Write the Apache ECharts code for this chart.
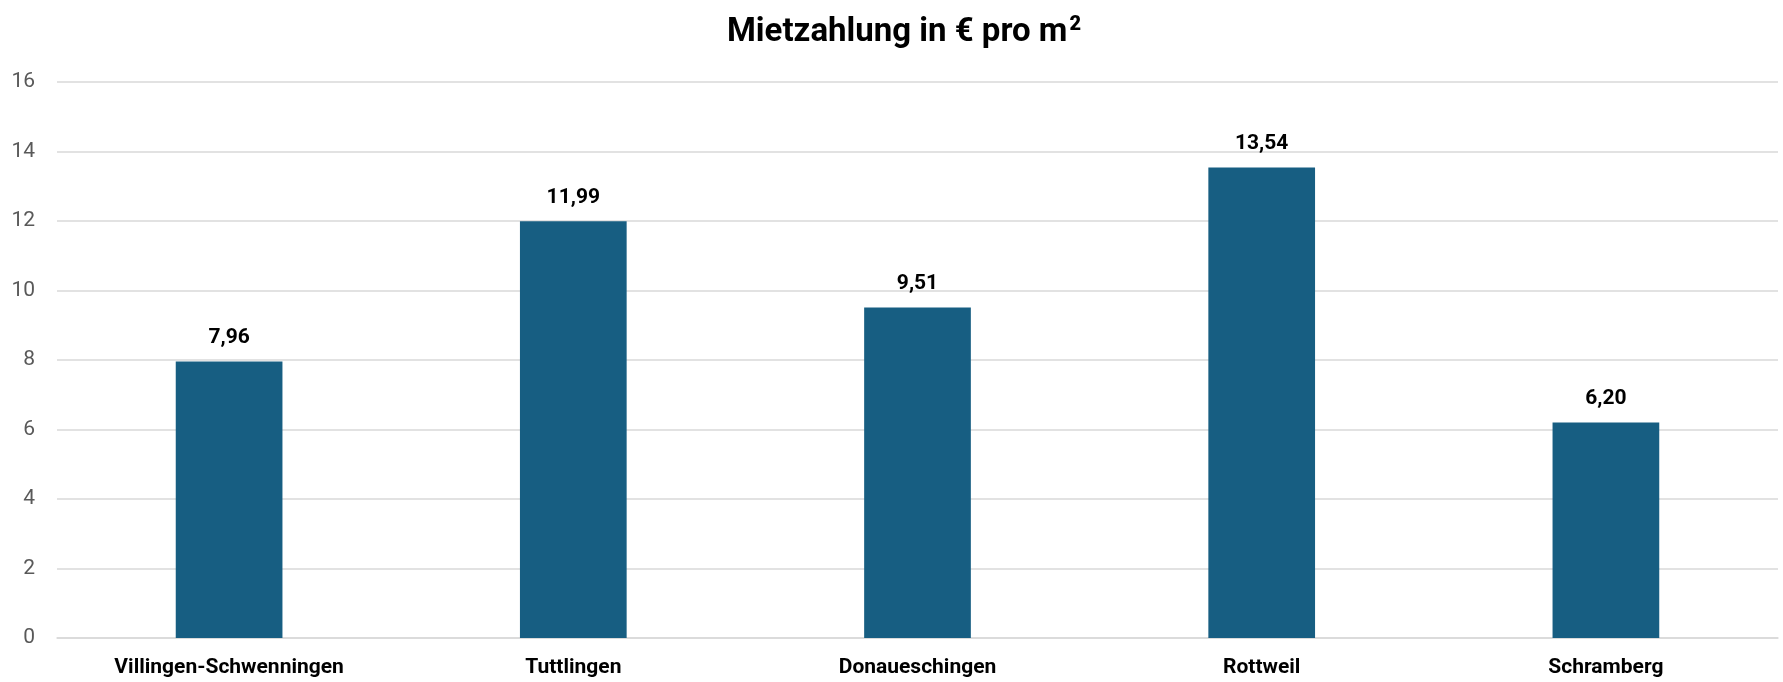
<!DOCTYPE html>
<html><head><meta charset="utf-8">
<script src="https://cdn.jsdelivr.net/npm/echarts@6/dist/echarts.min.js"></script>
<style>html,body{margin:0;padding:0;background:#fff}#c{width:1783px;height:682px}</style>
</head><body><div id="c"></div>
<script>
const categories = ["Villingen-Schwenningen","Tuttlingen","Donaueschingen","Rottweil","Schramberg"];
const values = [7.96, 11.99, 9.51, 13.54, 6.20];
const chartTitle = "Mietzahlung in € pro m";
const titleSup = "2";

const chart = echarts.init(document.getElementById('c'), null, {renderer:'canvas'});
chart.setOption({
  animation:false,
  backgroundColor:'#fff',
  title:{text:chartTitle + '{sup|' + titleSup + '}',left:899,top:10,textAlign:'center',
    textStyle:{fontFamily:'Roboto',fontWeight:'bold',fontSize:33,color:'#000',
      rich:{sup:{fontFamily:'Roboto',fontWeight:900,fontSize:20,color:'#000',verticalAlign:'top',padding:[0,0,16,2]}}}},
  grid:{left:57,right:5,top:82,bottom:44,containLabel:false},
  xAxis:{type:'category',data:categories,
    axisLine:{show:true,lineStyle:{color:'#d9d9d9',width:1.5}},
    axisTick:{show:false},
    axisLabel:{fontFamily:'Roboto',fontWeight:'bold',fontSize:21,color:'#000',margin:19}},
  yAxis:{type:'value',min:0,max:16,interval:2,
    axisLine:{show:false},axisTick:{show:false},
    splitLine:{lineStyle:{color:'#d9d9d9',width:1.5}},
    axisLabel:{fontFamily:'Roboto',fontSize:21,color:'#595959',margin:22}},
  series:[{type:'bar',data:values,barWidth:'31%',
    itemStyle:{color:'#175E82'},
    label:{show:true,position:'top',distance:13,fontFamily:'Roboto',fontWeight:'bold',fontSize:21,color:'#000',
      formatter:p=>p.value.toFixed(2).replace('.',',')}}]
});
</script></body></html>
